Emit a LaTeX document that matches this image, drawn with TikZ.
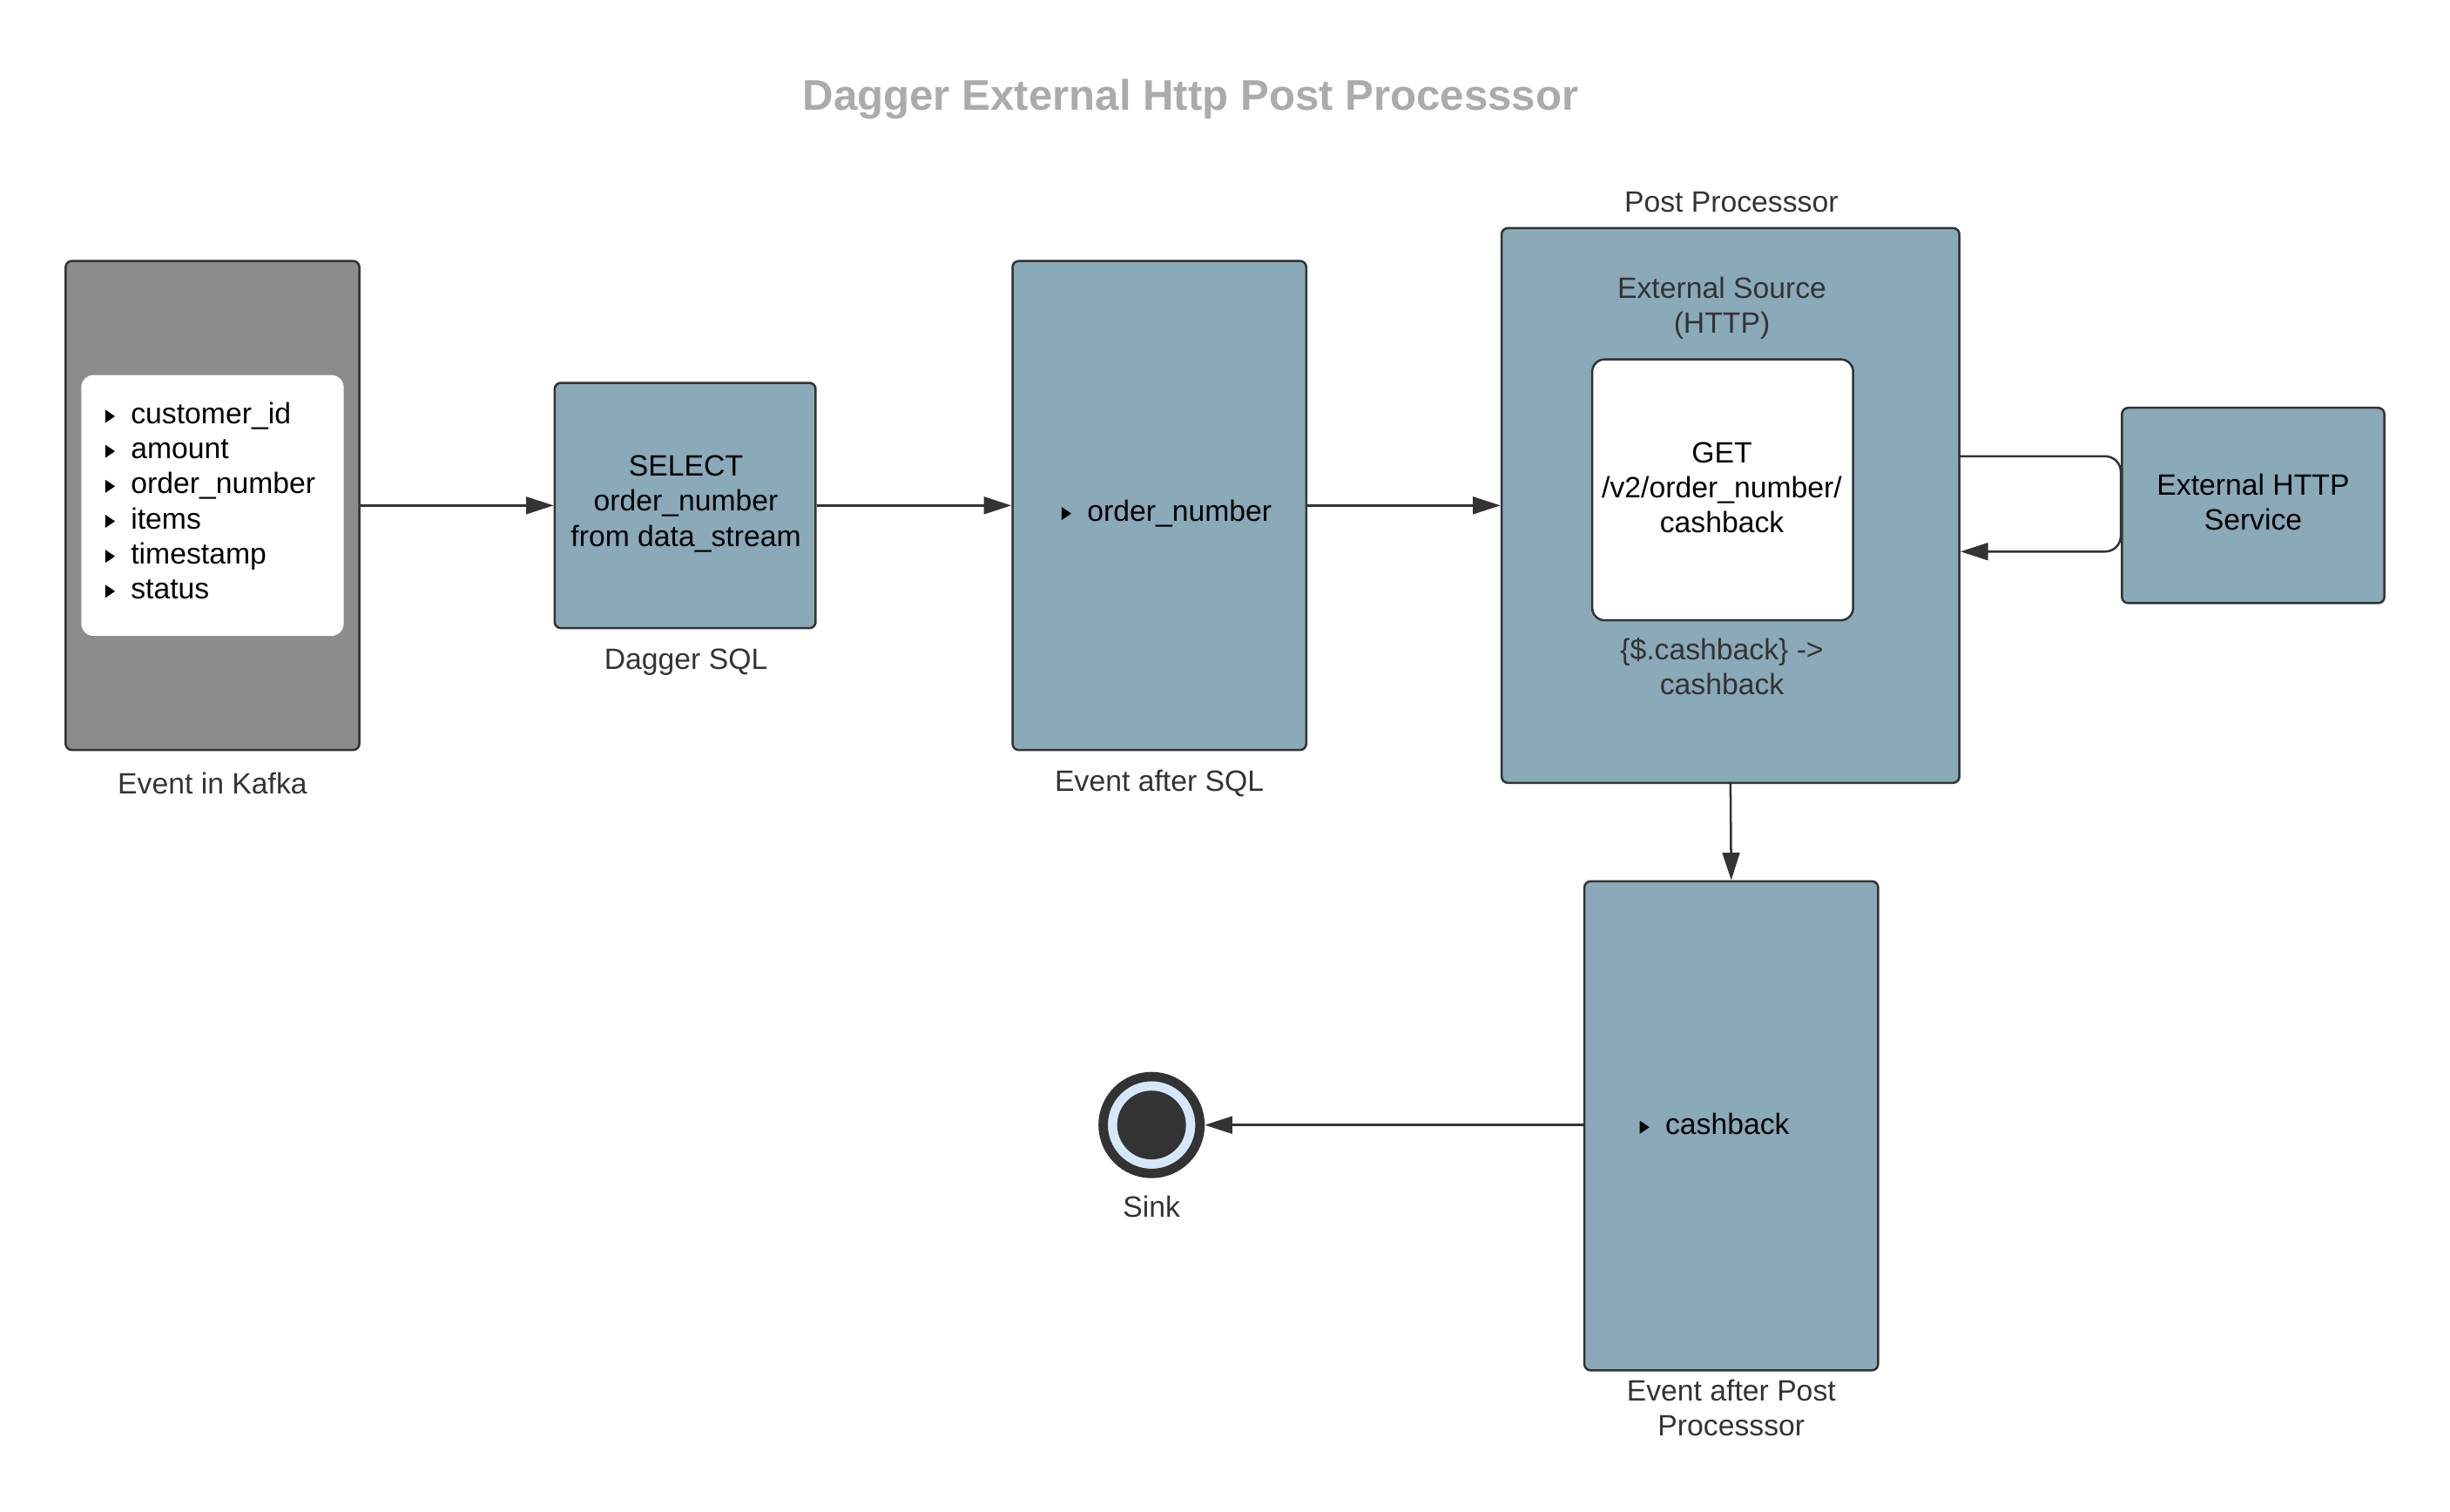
\documentclass[tikz,border=0pt]{standalone}
\usepackage{fontspec}
\setmainfont{Liberation Sans}
\usetikzlibrary{arrows.meta}
\definecolor{bluegray}{HTML}{8AA9B9}
\definecolor{kafkagray}{HTML}{8C8C8C}
\definecolor{edge}{HTML}{333333}
\definecolor{ringblue}{HTML}{D6E7FB}
\definecolor{titlegray}{HTML}{ABABAB}
\newcommand{\trib}{\tikz[baseline=0pt]\fill[black] (0pt,0.3pt)--(0pt,4.5pt)--(3.1pt,2.4pt)--cycle;\hspace{5.1pt}}
\begin{document}
\begin{tikzpicture}[x=0.5pt,y=-0.5pt,
  txt/.style={font=\fontsize{9.4}{11.2}\selectfont, inner sep=0pt, align=center},
  lbl/.style={txt, text=edge},
  box/.style={draw=edge, line width=0.7pt, rounded corners=2pt, inner sep=0pt},
  bluebox/.style={box, fill=bluegray},
  whitebox/.style={draw=edge, line width=0.7pt, fill=white, rounded corners=4pt, inner sep=0pt},
  arr/.style={draw=edge, line width=0.7pt, -{Triangle[length=8.8pt,width=5.5pt]}}]
\useasboundingbox (0,0) rectangle (1568,967.6);

% title
\node[font=\bfseries\fontsize{13.7}{16}\selectfont, text=titlegray, inner sep=0pt] (title) at (762,63.5) {Dagger External Http Post Processsor};

% Kafka event
\node[box, fill=kafkagray, minimum width=94pt, minimum height=156.5pt] (kafka) at (136,323.5) {};
\node[draw=none, fill=white, rounded corners=4pt, minimum width=84pt, minimum height=83.5pt, inner sep=0pt] (kafkalist) at (136,323.5) {};
\node[txt, align=left, anchor=west] (fields) at (67,320.5) {\trib customer\_id\\ \trib amount\\ \trib order\_number\\ \trib items\\ \trib timestamp\\ \trib status};
\node[lbl] (kafkalbl) at (136,501.5) {Event in Kafka};

% Dagger SQL
\node[bluebox, minimum width=83.5pt, minimum height=78.5pt] (sql) at (438.5,323.5) {};
\node[txt] (sqltxt) at (439,322.5) {SELECT\\order\_number\\from data\_stream};
\node[lbl] (sqllbl) at (439,424) {Dagger SQL};

% Event after SQL
\node[bluebox, minimum width=94pt, minimum height=156.5pt] (esql) at (742,323.5) {};
\node[txt, anchor=west] (esqltxt) at (679,328.5) {\trib order\_number};
\node[lbl] (esqllbl) at (742,501.5) {Event after SQL};

% Post processor
\node[bluebox, minimum width=146.5pt, minimum height=177.5pt] (pp) at (1107.5,323.5) {};
\node[lbl] (pplbl) at (1108,129.5) {Post Processsor};
\node[lbl] (exsrc) at (1102,197) {External Source\\(HTTP)};
\node[whitebox, minimum width=83.5pt, minimum height=83.5pt] (get) at (1102.5,313.5) {};
\node[txt] (gettxt) at (1102,312) {GET\\/v2/order\_number/\\cashback};
\node[lbl] (maptxt) at (1102,426.5) {\{\$.cashback\} ->\\cashback};

% External HTTP service
\node[bluebox, minimum width=84pt, minimum height=62.5pt] (ehs) at (1442,323.5) {};
\node[txt] (ehstxt) at (1442,321.5) {External HTTP\\Service};

% Event after post processor
\node[bluebox, minimum width=94pt, minimum height=156.5pt] (epp) at (1108,720.5) {};
\node[txt, anchor=west] (epptxt) at (1049,719.5) {\trib cashback};
\node[lbl] (epplbl) at (1108,901) {Event after Post\\Processsor};

% Sink
\node[circle, draw=edge, line width=3pt, fill=ringblue, minimum size=31pt, inner sep=0pt] (sink) at (737,720) {};
\fill[edge] (sink.center) circle[radius=11pt];
\node[lbl] (sinklbl) at (737,772.5) {Sink};

% connectors
\draw[arr] (kafka.east) -- (sql.west);
\draw[arr] (sql.east) -- (esql.west);
\draw[arr] (esql.east) -- (pp.west);
\coordinate (up) at (0,292);
\coordinate (dn) at (0,353);
\draw[arr, rounded corners=5pt] (pp.east |- up) -- (ehs.west |- up) -- (ehs.west |- dn) -- (pp.east |- dn);
\draw[arr] (pp.south) -- (epp.north);
\draw[arr] (epp.west |- sink) -- (sink);
\end{tikzpicture}
\end{document}
